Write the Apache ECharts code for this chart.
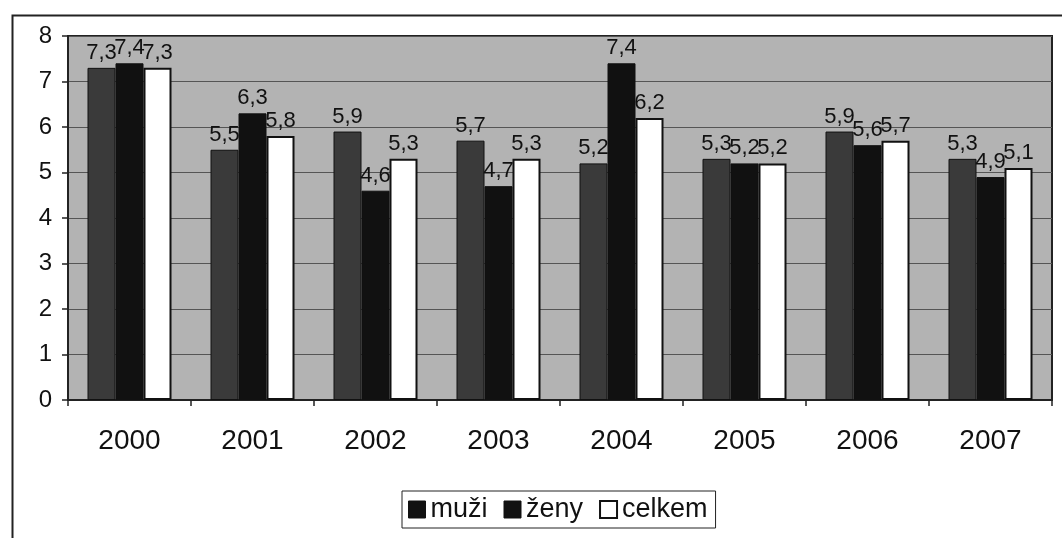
<!DOCTYPE html>
<html>
<head>
<meta charset="utf-8">
<script src="https://cdn.jsdelivr.net/npm/echarts@6/dist/echarts.min.js"></script>
<style>
html, body { margin: 0; padding: 0; background: #fff; }
#main { width: 1062px; height: 538px; }
</style>
</head>
<body>
<div id="main"></div>
<script>
var years = ['2000', '2001', '2002', '2003', '2004', '2005', '2006', '2007'];
var muzi = [7.3, 5.5, 5.9, 5.7, 5.2, 5.3, 5.9, 5.3];
var zeny = [7.4, 6.3, 4.6, 4.7, 7.4, 5.2, 5.6, 4.9];
var celkem = [7.3, 5.8, 5.3, 5.3, 6.2, 5.2, 5.7, 5.1];
var yTicks = [0, 1, 2, 3, 4, 5, 6, 7, 8];

var myChart = echarts.init(document.getElementById('main'), null, { renderer: 'canvas' });

// popisky s desetinnou čárkou
function carka(p) {
    return String(p.value).replace('.', ',');
}

var labelStyle = {
    show: true,
    position: 'top',
    distance: 4,
    color: '#111',
    fontFamily: 'Liberation Sans, Arial',
    fontSize: 22,
    formatter: carka
};

var option = {
    animation: false,
    backgroundColor: '#fff',
    grid: {
        left: 68,
        right: 10,
        top: 36,
        bottom: 138,
        show: true,
        backgroundColor: '#b3b3b3',
        borderColor: '#222',
        borderWidth: 2
    },
    legend: {
        left: 402,
        bottom: 10,
        icon: 'rect',
        itemWidth: 17,
        itemHeight: 17,
        itemGap: 16,
        padding: [5, 8, 5, 6],
        borderColor: '#222',
        borderWidth: 1,
        backgroundColor: '#fff',
        textStyle: { fontFamily: 'Liberation Sans, Arial', fontSize: 27, color: '#111' },
        data: [
            { name: 'muži', itemStyle: { color: '#111', borderColor: '#111', borderWidth: 1 } },
            { name: 'ženy', itemStyle: { color: '#111', borderColor: '#111', borderWidth: 1 } },
            { name: 'celkem', itemStyle: { color: '#fff', borderColor: '#111', borderWidth: 2 } }
        ]
    },
    xAxis: {
        type: 'category',
        data: years,
        axisLine: { lineStyle: { color: '#222', width: 2 } },
        axisTick: { show: true, length: 6, lineStyle: { color: '#222', width: 1.5 } },
        axisLabel: { margin: 27, fontFamily: 'Liberation Sans, Arial', fontSize: 28, color: '#111' }
    },
    yAxis: {
        type: 'value',
        min: yTicks[0],
        max: yTicks[yTicks.length - 1],
        interval: 1,
        axisLine: { show: true, lineStyle: { color: '#222', width: 2 } },
        axisTick: { show: true, length: 6, lineStyle: { color: '#222', width: 1.5 } },
        axisLabel: { margin: 16, fontFamily: 'Liberation Sans, Arial', fontSize: 24, color: '#111' },
        splitLine: { lineStyle: { color: '#555', width: 1 } }
    },
    series: [
        {
            name: 'muži',
            type: 'bar',
            data: muzi,
            barWidth: 28,
            barGap: '0%',
            itemStyle: { color: '#3a3a3a', borderColor: '#111', borderWidth: 1 },
            label: labelStyle
        },
        {
            name: 'ženy',
            type: 'bar',
            data: zeny,
            barWidth: 28,
            barGap: '0%',
            itemStyle: { color: '#111', borderColor: '#111', borderWidth: 1 },
            label: labelStyle
        },
        {
            name: 'celkem',
            type: 'bar',
            data: celkem,
            barWidth: 28,
            barGap: '0%',
            itemStyle: { color: '#fff', borderColor: '#111', borderWidth: 2 },
            label: labelStyle
        }
    ],
    graphic: [
        {
            type: 'rect',
            left: 10,
            top: 13,
            shape: { width: 1060, height: 540 },
            style: { fill: 'none', stroke: '#222', lineWidth: 2 },
            z: 100,
            silent: true
        }
    ]
};

myChart.setOption(option, true);
</script>
</body>
</html>
